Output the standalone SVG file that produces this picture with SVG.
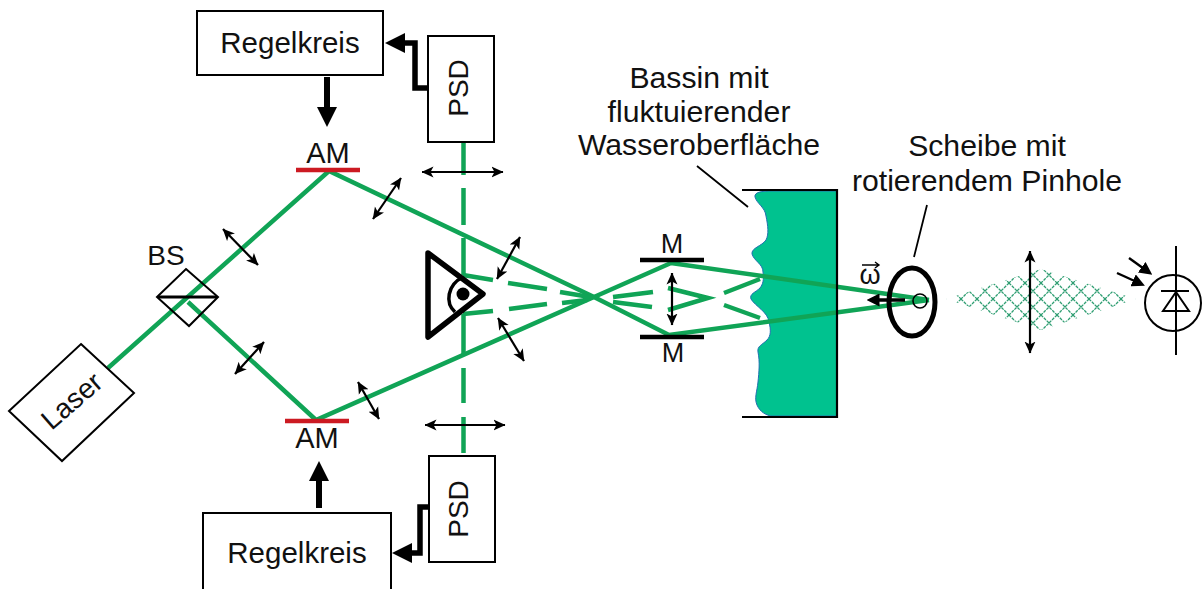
<svg xmlns="http://www.w3.org/2000/svg" width="1202" height="589" viewBox="0 0 1202 589">
<defs>
<marker id="h" viewBox="0 0 12 12" refX="11.5" refY="6" markerWidth="12" markerHeight="12" markerUnits="userSpaceOnUse" orient="auto-start-reverse"><path d="M0 0.5L12 6L0 11.5L3 6Z" fill="#000"/></marker>
<marker id="t" viewBox="0 0 20 20" refX="10" refY="10" markerWidth="20" markerHeight="20" markerUnits="userSpaceOnUse" orient="auto"><path d="M0 0L20 10L0 20Z" fill="#000"/></marker>
<marker id="s" viewBox="0 0 12 12" refX="6" refY="6" markerWidth="13" markerHeight="13" markerUnits="userSpaceOnUse" orient="auto"><path d="M0 0L12 6L0 12Z" fill="#000"/></marker>
<pattern id="mesh" width="16" height="16" patternUnits="userSpaceOnUse" patternTransform="translate(1041 299)"><path d="M0 0L16 16M16 0L0 16" stroke="#2f9e72" stroke-width="1.3" stroke-dasharray="3 1" fill="none"/></pattern>
</defs>
<style>
text{font-family:"Liberation Sans",Arial,sans-serif;fill:#111;font-size:29.5px}
.box{fill:#fff;stroke:#000;stroke-width:2}
.g{stroke:#10a456;stroke-width:4.5;fill:none}
.da{stroke:#000;stroke-width:2.2;fill:none;marker-start:url(#h);marker-end:url(#h)}
.k{stroke:#000;fill:none}
.m{text-anchor:middle}
.l{font-size:30.2px}
</style>
<g id="water"><path d="M772 191C762 191 754 192 755 197C757 204 765 207 766 216C768 226 769 234 766 240C762 246 751 248 752 254C754 261 763 264 763 272C764 280 763 284 760 288C756 292 749 294 751 299C755 306 768 312 769 322C771 330 771 336 767 340C762 345 757 346 758 352C760 362 759 372 758 382C757 392 754 398 757 405C760 412 766 415 771 416L837 416L837 191Z" fill="#00c28f" stroke="#2070b0" stroke-width="1"/></g>
<g id="beams">
<path class="g" d="M108 368L329 171L594 297L669 335L929 300"/>
<path class="g" d="M188 302L316 420L594 297L671 263L929 300"/>
<path class="g" d="M463.5 142V175M463.5 188V225M463.5 238V275M463.5 314V355M463.5 368V403M463.5 417V453"/>
<path class="g" d="M463 275L493 280M508 283L547 289M560 292L590 297M463 314L493 311M509 309L547 304M562 303L587 300M613 297L653 292M613 302L652 307M668 288L708 298L668 310"/>
<path class="g" d="M724 293L760 279M724 305L760 318"/>
</g>
<g id="mesh-beam"><path d="M946 299L1041 269L1136 299L1041 330Z" fill="url(#mesh)"/></g>
<g id="connectors">
<path class="k" stroke-width="5.5" d="M428 88H415V43H395" marker-end="url(#t)"/>
<path class="k" stroke-width="6" d="M327 77V117" marker-end="url(#t)"/>
<path class="k" stroke-width="5.5" d="M429 507H420V553H402" marker-end="url(#t)"/>
<path class="k" stroke-width="6" d="M319 508V471" marker-end="url(#t)"/>
<path class="da" d="M422 172H503"/><path class="da" d="M425 425H505"/>
<path class="da" d="M223 229L258 265"/><path class="da" d="M235 374L264 342"/>
<path class="da" d="M373 219L401 178"/><path class="da" d="M358 382L379 419"/>
<path class="da" d="M497 279L520 237"/><path class="da" d="M498 318L524 361"/>
<path class="da" stroke-width="2.5" d="M672 273V325"/><path class="da" stroke-width="2.5" d="M1030 251V353"/>
<path class="k" stroke-width="1.8" d="M697 166L748 207M927 205L914 257"/>
<path class="k" stroke-width="3.5" d="M905 300H873" marker-end="url(#s)"/>
</g>
<g id="laser"><path class="box" d="M81 344L134 393L62 461L9 411Z"/><text class="m" transform="translate(78 408) rotate(-41)" style="font-size:28px">Laser</text></g>
<g id="bs"><path class="k" stroke-width="2" d="M186 269L218 297L189 326L157 297Z"/><path class="k" stroke-width="3" d="M158 297H217"/><text class="m" x="166" y="265" style="font-size:28px">BS</text></g>
<g id="am-top"><path stroke="#cc1a22" stroke-width="4.5" d="M296 170H360"/><text class="m" x="328" y="163" style="font-size:29px">AM</text></g>
<g id="am-bottom"><path stroke="#cc1a22" stroke-width="4.5" d="M285 421H349"/><text class="m" x="317" y="448" style="font-size:29px">AM</text></g>
<g id="regel-top"><rect class="box" x="197" y="11" width="186" height="64"/><text class="m" x="290" y="53">Regelkreis</text></g>
<g id="regel-bottom"><rect class="box" x="203" y="513" width="188" height="78"/><text class="m" x="297" y="563">Regelkreis</text></g>
<g id="psd-top"><rect class="box" x="428" y="36" width="66" height="106"/><text class="m" transform="translate(468 88) rotate(-90)" style="font-size:28px">PSD</text></g>
<g id="psd-bottom"><rect class="box" x="429" y="456" width="66" height="106"/><text class="m" transform="translate(468 509) rotate(-90)" style="font-size:28px">PSD</text></g>
<g id="eye"><path d="M428 253L483 294L428 337Z" fill="none" stroke="#000" stroke-width="5.5" stroke-linejoin="round"/><path d="M463 277C447 285 445 303 455 312" fill="none" stroke="#000" stroke-width="3.5"/><circle cx="463" cy="294" r="6.5" fill="#000"/></g>
<g id="mirror-top"><path class="k" stroke-width="4.5" d="M640 260H704"/><text class="m" x="672" y="253" style="font-size:27px">M</text></g>
<g id="mirror-bottom"><path class="k" stroke-width="4.5" d="M640 337H704"/><text class="m" x="673" y="362" style="font-size:27px">M</text></g>
<g id="bassin"><path class="k" stroke-width="2.2" d="M742 190H837V417H742"/><text class="m l" x="699" y="88">Bassin mit</text><text class="m l" x="699" y="122">fluktuierender</text><text class="m l" x="699" y="155">Wasseroberfläche</text></g>
<g id="disc"><ellipse cx="912" cy="302" rx="23" ry="34" fill="none" stroke="#000" stroke-width="5"/><circle cx="920" cy="301" r="7" fill="none" stroke="#000" stroke-width="1.6"/><text class="m l" x="987" y="156">Scheibe mit</text><text class="m l" x="987" y="191">rotierendem Pinhole</text><text class="m" x="870" y="284" style="font-size:27px">ω</text><path class="k" stroke-width="1.4" d="M862 265H879M875 262L879 265L875 268"/></g>
<g id="photodiode"><circle cx="1173" cy="303" r="28" fill="#fff" stroke="#000" stroke-width="2"/><path class="k" stroke-width="2" d="M1176 246V355M1161 291H1189M1163 311H1189L1176 292Z"/><path class="k" stroke-width="2.4" d="M1129 258L1147 271" marker-end="url(#s)"/><path class="k" stroke-width="2.4" d="M1117 273L1139 283" marker-end="url(#s)"/></g>
</svg>
